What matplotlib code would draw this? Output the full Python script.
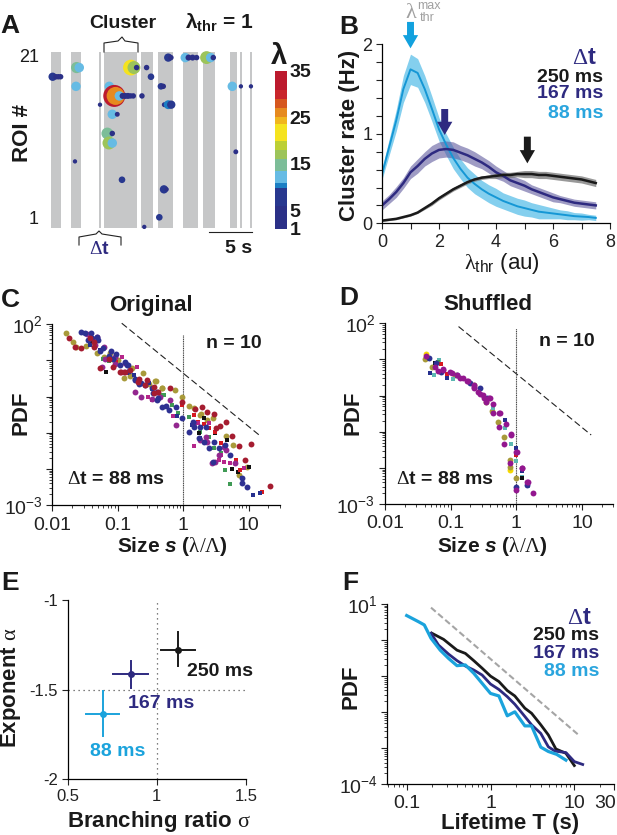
#!/usr/bin/env python3
import numpy as np
import matplotlib
matplotlib.use('Agg')
import matplotlib.pyplot as plt
from matplotlib.colors import ListedColormap, BoundaryNorm
from matplotlib.colorbar import ColorbarBase
from matplotlib.lines import Line2D
from matplotlib.ticker import LogLocator, NullFormatter, FixedLocator, FixedFormatter

plt.rcParams['font.family'] = ['Liberation Sans', 'DejaVu Sans']
plt.rcParams['mathtext.fontset'] = 'custom'
plt.rcParams['mathtext.rm'] = 'Liberation Serif'
plt.rcParams['mathtext.it'] = 'Liberation Serif'
plt.rcParams['mathtext.bf'] = 'Liberation Sans:bold'
plt.rcParams['mathtext.bfit'] = 'Liberation Sans:italic:bold'
plt.rcParams['axes.linewidth'] = 0.9

W, H = 617, 835
CYAN = '#1ba3dc'
NAVY = '#2e2a80'
BLACK = '#1a1a1a'
DARK = '#222222'

# panel A, active bands (s)
band_start = [0.03, 2.36, 5.55, 6.13, 10.47, 12.44, 15.31, 17.64, 20.78, 21.98, 23.1]
band_end = [1.2, 3.52, 5.81, 10.0, 11.86, 14.15, 17.09, 19.07, 21.63, 22.24, 23.4]

# panel A, events: time (s), ROI, lambda
spot_t = [0.19, 0.58, 0.85, 1.12, 2.98, 3.29, 2.91, 5.7, 6.78, 7.36, 7.52, 7.95, 8.33, 8.64, 8.95, 9.26,
          9.57, 10.58, 9.3, 9.65, 9.96, 11.12, 11.63, 7.13, 7.71, 6.55, 7.13, 6.74, 7.13, 8.26, 2.79,
          12.6, 12.79, 13.06, 13.14, 13.45, 13.18, 13.64, 13.99, 13.64, 13.95, 10.85,
          15.62, 16.0, 16.47, 16.94, 18.1, 18.57, 18.88, 21.09, 21.5, 22.09, 23.26]
spot_roi = [18.6, 18.6, 18.6, 18.6, 19.75, 19.75, 17.4, 15.1, 17.4, 16.2, 16.2, 16.2, 16.2, 16.2, 16.2, 16.2,
            16.2, 16.2, 19.75, 19.75, 19.75, 19.75, 18.6, 13.9, 13.9, 11.5, 11.5, 10.3, 10.3, 5.7, 8.0,
            1.0, 17.4, 17.4, 4.5, 4.5, 15.1, 15.1, 15.1, 21, 21, -0.2,
            21, 21, 21, 21, 21, 21, 21, 17.4, 9.2, 17.4, 17.4]
spot_lam = [9, 4, 4, 4, 14, 11, 11, 2, 11, 33, 26, 11, 5, 5, 5, 4,
            4, 4, 22, 17, 4, 4, 6, 11, 3, 15, 4, 17, 11, 6, 2,
            6, 6, 4, 9, 2, 3, 10, 9, 9, 4, 2,
            11, 5, 5, 4, 17, 11, 4, 11, 3, 2, 2]

lam_edges = [1, 6, 9.85, 11, 13.4, 16, 18, 20, 23.5, 25, 27, 29, 31, 35]
lam_colors = ['#2b3087', '#28388f', '#1b7fc4', '#66bbe4', '#7cbd98', '#9cc45a', '#bccf34',
              '#f5e31f', '#f0b61e', '#e68a1f', '#d6571f', '#c9262b', '#bc1a2e']
lam_ticks = [1, 5, 15, 25, 35]

# panel B, cluster rate
thr = np.arange(0, 7.75, 0.25)
rate_88 = [.55, .85, 1.15, 1.5, 1.72, 1.68, 1.5, 1.28, 1.05, .88, .73, .61, .51, .44, .38, .33, .29, .25, .22, .19,
           .17, .15, .13, .12, .11, .10, .09, .08, .075, .07, .06]
err_88 = [.06, .09, .12, .15, .17, .16, .15, .14, .13, .12, .12, .11, .11, .11, .10, .10, .10, .09, .09, .09,
          .09, .08, .08, .07, .06, .05, .05, .04, .04, .03, .03]
rate_167 = [.2, .27, .35, .45, .57, .64, .72, .78, .82, .83, .82, .79, .76, .72, .68, .63, .57, .53, .48, .45,
            .42, .38, .35, .32, .29, .27, .25, .23, .22, .21, .2]
err_167 = [.05, .05, .06, .06, .07, .08, .08, .09, .09, .09, .09, .08, .08, .08, .07, .07, .07, .06, .06, .06,
           .06, .05, .05, .05, .05, .04, .04, .04, .04, .04, .04]
rate_250 = [.03, .04, .05, .07, .09, .12, .17, .22, .28, .33, .38, .42, .46, .49, .51, .52, .53, .54, .54, .55,
            .55, .55, .54, .54, .53, .52, .51, .50, .49, .47, .45]
err_250 = [.01, .01, .01, .01, .01, .01, .015, .02, .02, .02, .02, .02, .02, .02, .02, .02, .03, .03, .03, .03,
           .04, .04, .04, .04, .04, .04, .04, .04, .04, .04, .04]

# panel C, log10 size and log10 pdf for each recording
c_olive_s = [-1.79, -1.69, -1.64, -1.48, -1.40, -1.31, -1.21, -1.12, -1.0, -.91, -.78, -.61, -.43, -.33, -.12, -.02, .08, .26, .37, .66, .76, .85, .97,
             -1.09, -1.02, -.81, -.52, -.42, -.32, .17, .27, .46]
c_olive_p = [1.77, 1.52, 1.38, 1.40, 1.50, 1.20, 1.10, 1.20, 1.02, .51, .78, .65, .42, .25, .18, 0, -.25, -.50, -.65, -1.1, -1.35, -2.17, -1.95,
             1.03, .94, .57, .36, .42, .24, -.31, -.49, -.58]
c_dred_s = [-1.74, -1.65, -1.56, -1.42, -1.27, -1.07, -.95, -.82, -.69, -.56, -.38, -.21, -.02, .18, .28, .37, .47, .50, .56, .65, .75, .85, 1.04, .94, 1.33,
            -1.37, -1.36, -1.14, -.96, -.89, -.68, -.59, -.45, -.45]
c_dred_p = [1.61, 1.38, 1.35, 1.61, .80, .83, .67, .74, .41, .46, .14, .25, -.16, -.33, -.28, -.42, -.49, -.88, -.81, -.71, -1.08, -1.36, -1.32, -1.76, -2.48,
            1.37, 1.51, 1.05, .68, .68, .48, .31, .11, .27]
c_navy_s = [-1.56, -1.50, -1.46, -1.40, -1.32, -1.30, -1.22, -1.14, -1.07, -.96, -.86, -.83, -.73, -.65, -.58, -.48, -.46, -.38, -.27, -.22, -.11, -.02, .08, .15, .24, .32, .40, .47, .55, .63, .72, .90, .90, .97,
            -1.41, -1.27, -1.1, -1.03, -.89, -.85, -.73, -.68, -.4, -.4, -.32, .16, .26, .34, .46]
c_navy_p = [1.80, 1.75, 1.57, 1.61, 1.66, 1.57, 1.34, 1.13, 1.04, .87, .87, .71, .46, .37, .32, .23, .09, -.05, -.25, -.37, -.28, -.60, -.99, -.69, -1.15, -1.25, -1.43, -1.25, -1.41, -1.34, -1.62, -2.25, -2.39, -2.5,
            1.76, 1.25, 1.25, 1.17, .96, .87, .48, .36, .13, -.1, -.29, -.83, -.83, -.85, -1.82]
c_purp_s = [-1.47, -1.35, -1.24, -1.04, -.89, -.74, -.65, -.48, -.35, -.2, -.11, .16, .26, .37, .44, .49, .54, .66, .79,
            -1.31, -1.21, -1.19, -1.05, -.9, .34, .62]
c_purp_p = [1.72, 1.43, .83, 1.1, .92, .12, 0, -.07, 0, -.09, -.79, -.74, -1.2, -1.25, -1.83, -1.8, -1.61, -1.48, -1.85,
            1.65, 1.37, 1.05, .91, .68, -1.11, -1.4]
c_mag_s = [-.94, -.71, -.48, -.15, .16, .22, .57, .72, .93, -.54, .39, .54, .62]
c_mag_p = [1.1, .83, -.09, -.54, -1.37, -.74, -1.63, -1.85, -1.97, -.01, -.74, -1.75, -1.8]
c_red_s = [-1.02, -.02, .22, .31, .4, .57, .8, .87, 1.2, .16, .48]
c_red_p = [.97, -.23, -.69, -.77, -.88, -1.29, -1.75, -2.03, -2.65, -.51, -.99]
c_green_s = [-1.14, -.48, -.3, -.17, -.08, .08, .25, .47, .64, .72, -1.22, -.33, .4, .57]
c_green_p = [.98, .21, .04, -.23, -.46, -.56, -.97, -1.43, -2.03, -2.43, 1.03, .04, -1.11, -1.55]
c_black_s = [-1.18, -1.42, -.02, .24, .32, .49, .67, .75, 1, .83]
c_black_p = [.69, 1.47, -.19, -1.02, -.59, -1.02, -1.2, -2, -1.96, -2.1]
c_nsq_s = [-1.42, -1.27, -.86, -.76, -.53, -.1, .13, .26, .9, 1.06, 1.17]
c_nsq_p = [1.43, 1.29, .64, .6, .37, -.55, -.79, -1.15, -2.25, -2.73, -2.68]

# panel D, log10 size and log10 pdf for each shuffled recording
d_olive_s = [-1.39, -1.29, -.93, -.65, -.46, -.37, -.28, -.19, -.09, -.09, 0]
d_olive_p = [1.01, .8, .57, .29, -.17, -.43, -.73, -1.14, -1.79, -1.98, -2.27]
d_purp_s = [-1.38, -1.24, -1.11, -.98, -.86, -.75, -.65, -.58, -.49, -.41, -.35, -.26, -.27, -.18, -.08, -.09, 0, 0, .08, .17, .25,
            -1.19, -1.11, -1.01, -.91, -.81, -.73, -.65, -.64, -.55, -.5, -.4, -.46, -.25, -.36, -.16, -.08, .01, .08, .18]
d_purp_p = [1.1, .8, .71, .62, .5, .39, .25, .11, -.07, -.07, -.24, -.47, -.86, -1.34, -1.09, -1.87, -2.61, -1.55, -2.01, -2.38, -2.69,
            .68, .74, .66, .57, .48, .39, .29, .2, .04, .02, -.06, -.19, -.47, -.49, -.8, -1.07, -1.57, -2.01, -2.38]
d_navy_s = [-1.33, -1.22, -1.14, -.91, -.7, -.55, -.45, 0, .16]
d_navy_p = [1.05, .89, .66, .57, .34, .2, -.06, -2.52, -2.47]
d_nsq_s = [-1.31, -1.06, -.17, -.08, 0, .09]
d_nsq_p = [.62, .48, -.68, -1.09, -1.46, -2.09]
d_teal_s = [-1.25, -1.18, -.96, -.35, -.17, -.08, 0, .09, .18]
d_teal_p = [.57, .98, .45, -.33, -.91, -1.34, -1.81, -2.24, -2.5]
d_red_s = [-1.14, -1.06, 0]
d_red_p = [.87, .59, -1.64]
d_black_s = [-1.24, .09]
d_black_p = [.89, -2.27]
d_green_s = [-1.19, .18]
d_green_p = [.92, -2.47]
d_yel_s = [-1.38, -.09]
d_yel_p = [1.14, -2.06]

# guide lines (log10 coordinates)
c_guide_s = [-.94, 1.19]
c_guide_p = [2.03, -1.11]
d_guide_s = [-.88, 1.14]
d_guide_p = [1.91, -1.09]

# panel E
sigma = [1.12, .853, .70]
sigma_lo = [1.023, .756, .603]
sigma_hi = [1.214, .949, .79]
alpha_v = [-1.28, -1.415, -1.634]
alpha_lo = [-1.37, -1.49, -1.76]
alpha_hi = [-1.18, -1.34, -1.505]
dt_names = ['250 ms', '167 ms', '88 ms']

# panel F, log10 lifetime and log10 pdf
f88_t = [-1, -.86, -.79, -.71, -.6, -.5, -.4, -.3, -.2, -.1, 0, .1, .2, .29, .41, .49, .6, .69, .79, .9]
f88_p = [.68, .51, .42, .05, -.28, -.51, -.71, -.69, -.92, -1.2, -1.48, -1.55, -2.1, -1.99, -2.38, -2.38, -2.97, -3.09, -3.17, -3.33]
f167_t = [-.71, -.62, -.5, -.4, -.3, -.2, -.1, 0, .1, .2, .29, .41, .49, .6, .69, .77, .9, 1, 1.1]
f167_p = [.19, -.14, -.39, -.57, -.72, -.83, -.97, -1.22, -1.37, -1.57, -1.78, -2.12, -2.35, -2.59, -2.96, -3.08, -3.12, -3.37, -3.45]
f250_t = [-.7, -.56, -.4, -.3, -.2, -.1, 0, .1, .2, .29, .41, .49, .6, .69, .78, .9, 1]
f250_p = [.19, .02, -.28, -.37, -.57, -.78, -1, -1.15, -1.4, -1.55, -1.89, -2.03, -2.35, -2.63, -3.02, -3.14, -3.48]
f_guide_t = [-.71, 1.05]
f_guide_p = [.9, -2.63]

fig = plt.figure(figsize=(W / 100, H / 100), dpi=100)


def add_ax(left, top, right, bottom):
    ax = fig.add_axes([left / W, 1 - bottom / H, (right - left) / W, (bottom - top) / H])
    ax.patch.set_alpha(0)
    ax.spines['top'].set_visible(False)
    ax.spines['right'].set_visible(False)
    ax.tick_params(which='major', length=4, width=0.8, labelsize=13, pad=3, color=DARK, labelcolor=DARK)
    ax.tick_params(which='minor', length=2.5, width=0.6, color=DARK)
    return ax


def label(x, y, s, size=14, bold=True, color=BLACK, ha='center', rot=0):
    fig.text(x / W, 1 - y / H, s, fontsize=size, fontweight='bold' if bold else 'normal',
             color=color, ha=ha, va='center', rotation=rot)


def bracket(xs, ys):
    fig.add_artist(Line2D(np.array(xs) / W, 1 - np.array(ys) / H, color=DARK, lw=0.8))


def log_axes(ax, xmajor, xlabels, ymajor, ylabels):
    ax.set_xscale('log')
    ax.set_yscale('log')
    ax.xaxis.set_major_locator(FixedLocator(xmajor))
    ax.xaxis.set_major_formatter(FixedFormatter(xlabels))
    ax.xaxis.set_minor_locator(LogLocator(base=10, subs=np.arange(2, 10), numticks=20))
    ax.xaxis.set_minor_formatter(NullFormatter())
    ax.yaxis.set_major_locator(FixedLocator(ymajor))
    ax.yaxis.set_major_formatter(FixedFormatter(ylabels))
    ax.yaxis.set_minor_locator(LogLocator(base=10, subs=np.arange(2, 10), numticks=20))
    ax.yaxis.set_minor_formatter(NullFormatter())
    ax.tick_params(which='major', labelsize=14)


def dots(ax, s, p, color, marker='o', size=18):
    ax.scatter(10 ** np.array(s), 10 ** np.array(p), s=size, c=color, marker=marker, linewidths=0, clip_on=False, zorder=3)


# ---- A
axA = add_ax(51, 52, 253, 228)
axA.set_xlim(0, 23.5)
axA.set_ylim(-0.34, 21.7)
axA.axis('off')
for a, b in zip(band_start, band_end):
    axA.axvspan(a, b, color='#c6c7c8', lw=0)
cmap = ListedColormap(lam_colors)
norm = BoundaryNorm(lam_edges, cmap.N)
lam = np.array(spot_lam)
axA.scatter(spot_t, spot_roi, c=lam, cmap=cmap, norm=norm, s=((3.2 + 0.57 * lam) * 0.72) ** 2, linewidths=0, clip_on=False, zorder=3)

cax = fig.add_axes([275 / W, 1 - 229 / H, 12 / W, 158 / H])
cb = ColorbarBase(cax, cmap=cmap, norm=norm, spacing='proportional', ticks=lam_ticks)
cb.outline.set_visible(False)
cb.ax.minorticks_off()
cb.ax.tick_params(length=0, labelsize=14, pad=2, labelcolor=BLACK)
cb.ax.set_yticklabels([str(v) for v in lam_ticks], fontweight='bold')

label(10, 26, 'A', 19)
label(123, 23, 'Cluster')
label(219, 23, r'$\mathbf{\lambda_{thr}}$ = 1', 15)
label(39, 58, '21', 13, bold=False, ha='right')
label(39, 219, '1', 13, bold=False, ha='right')
label(22, 133, 'ROI #', 16, rot=90)
label(279, 56, r'$\mathbf{\lambda}$', 21)
label(99, 249, r'$\Delta$t', 14, color=NAVY)
label(239, 248, '5 s', 14)
bracket([104, 104, 118, 122, 125, 138, 138], [52, 43, 41, 37, 41, 43, 52])
bracket([79, 79, 96, 99, 102, 121, 121], [245, 237, 234, 231, 234, 237, 245])
bracket([209, 252], [232, 232])

# ---- B
axB = add_ax(382, 44.3, 610, 223.3)
axB.set_xlim(0, 8)
axB.set_ylim(0, 2)
r88, e88 = np.array(rate_88), np.array(err_88)
r167, e167 = np.array(rate_167), np.array(err_167)
r250, e250 = np.array(rate_250), np.array(err_250)
axB.fill_between(thr, r88 - e88, r88 + e88, color='#84cfee', lw=0)
axB.fill_between(thr, r167 - e167, r167 + e167, color='#5f5a9e', alpha=0.6, lw=0)
axB.fill_between(thr, r250 - e250, r250 + e250, color='#777777', alpha=0.75, lw=0)
axB.plot(thr, r88, color='#1597d5', lw=1.4)
axB.plot(thr, r167, color=NAVY, lw=1.8)
axB.plot(thr, r250, color=BLACK, lw=1.8)
axB.set_xticks([0, 2, 4, 6, 8])
axB.set_xticks([1, 3, 5, 7], minor=True)
axB.set_yticks([0, 1, 2])
axB.set_yticks(np.arange(0, 2.01, 0.2), minor=True)
axB.tick_params(which='minor', length=4, width=0.8)
axB.tick_params(axis='x', pad=4)
for x0, y0, y1, col in [(1, 2.25, 1.955, '#12a1de'), (2.2, 1.277, .987, NAVY), (5.1, .968, .67, BLACK)]:
    axB.annotate('', xy=(x0, y1), xytext=(x0, y0), annotation_clip=False,
                 arrowprops=dict(width=5, headwidth=11, headlength=9.5, color=col, shrink=0, lw=0))
label(349, 27, 'B', 19)
label(349, 135, 'Cluster rate (Hz)', 16, rot=90)
label(411, 12, r'$\lambda$', 16, bold=False, color='#a0a0a0')
label(429, 6, 'max', 9, bold=False, color='#a0a0a0')
label(427, 18, 'thr', 9, bold=False, color='#a0a0a0')
label(502, 263, r'$\lambda_{\mathregular{thr}}$ (au)', 16, bold=False)
label(597, 57, r'$\Delta$t', 17, color=NAVY, ha='right')
label(603, 77, '250 ms', 14, ha='right')
label(603, 94, '167 ms', 14, color=NAVY, ha='right')
label(603, 113, '88 ms', 14, color='#2aa5de', ha='right')

# ---- C
axC = add_ax(52.3, 324.3, 280, 505)
axC.set_xlim(0.01, 30)
axC.set_ylim(1e-3, 1e2)
log_axes(axC, [0.01, 0.1, 1, 10], ['0.01', '0.1', '1', '10'], [1e-3, 1e-2, 1e-1, 1, 10, 100],
         [r'$\mathregular{10^{-3}}$', '', '', '', '', r'$\mathregular{10^{2}}$'])
axC.tick_params(axis='x', pad=5)
axC.plot(10 ** np.array(c_guide_s), 10 ** np.array(c_guide_p), color=DARK, lw=0.8, ls=(0, (6, 3)), clip_on=False)
axC.plot([1, 1], [1e-3, 10 ** 1.7], color='#444444', lw=0.8, ls=(0, (1, 0.6)))
dots(axC, c_olive_s, c_olive_p, '#a89a3a')
dots(axC, c_green_s, c_green_p, '#3f9a55', 's', 11)
dots(axC, c_black_s, c_black_p, '#111111', 's', 11)
dots(axC, c_red_s, c_red_p, '#d71920', 's', 11)
dots(axC, c_mag_s, c_mag_p, '#b5268a', 's', 11)
dots(axC, c_nsq_s, c_nsq_p, '#262f8e', 's', 11)
dots(axC, c_purp_s, c_purp_p, '#93278f')
dots(axC, c_navy_s, c_navy_p, '#2e3192')
dots(axC, c_dred_s, c_dred_p, '#a51c30')
label(10, 300, 'C', 19)
label(151, 305, 'Original', 16)
label(234, 343, 'n = 10')
label(116, 480, r'$\Delta$t = 88 ms')
label(21, 413, 'PDF', 16, rot=90)
label(172, 546, r'Size $\mathbfit{s}$ ($\lambda/\Lambda$)', 15)

# ---- D
axD = add_ax(385, 323.3, 613.3, 504)
axD.set_xlim(0.01, 30)
axD.set_ylim(1e-3, 1e2)
log_axes(axD, [0.01, 0.1, 1, 10], ['0.01', '0.1', '1', '10'], [1e-3, 1e-2, 1e-1, 1, 10, 100],
         [r'$\mathregular{10^{-3}}$', '', '', '', '', r'$\mathregular{10^{2}}$'])
axD.tick_params(axis='x', pad=4)
axD.plot(10 ** np.array(d_guide_s), 10 ** np.array(d_guide_p), color=DARK, lw=0.8, ls=(0, (6, 3)), clip_on=False)
axD.plot([1, 1], [1e-3, 10 ** 1.86], color='#444444', lw=0.8, ls=(0, (1, 0.6)))
dots(axD, d_yel_s, d_yel_p, '#f5d800')
dots(axD, d_olive_s, d_olive_p, '#a89a3a')
dots(axD, d_teal_s, d_teal_p, '#5cb8b2', 's', 11)
dots(axD, d_green_s, d_green_p, '#3f9a55', 's', 11)
dots(axD, d_red_s, d_red_p, '#d71920', 's', 11)
dots(axD, d_black_s, d_black_p, '#111111', 's', 11)
dots(axD, d_nsq_s, d_nsq_p, '#262f8e', 's', 11)
dots(axD, d_navy_s, d_navy_p, '#2e3192')
dots(axD, d_purp_s, d_purp_p, '#93178f')
label(349, 298, 'D', 19)
label(488, 305, 'Shuffled', 16)
label(567, 342, 'n = 10')
label(445, 480, r'$\Delta$t = 88 ms')
label(353, 413, 'PDF', 16, rot=90)
label(492, 546, r'Size $\mathbfit{s}$ ($\lambda/\Lambda$)', 15)

# ---- E
axE = add_ax(67.7, 600, 246, 779.3)
axE.set_xlim(0.5, 1.5)
axE.set_ylim(-2, -1)
axE.plot([1, 1], [-2, -1], color='#555555', lw=0.9, ls=(0, (1, 3)))
axE.plot([0.5, 1.5], [-1.5, -1.5], color='#555555', lw=0.9, ls=(0, (1, 3)))
e_colors = [BLACK, NAVY, CYAN]
for i in range(3):
    axE.plot([sigma_lo[i], sigma_hi[i]], [alpha_v[i], alpha_v[i]], color=e_colors[i], lw=1.4)
    axE.plot([sigma[i], sigma[i]], [alpha_lo[i], alpha_hi[i]], color=e_colors[i], lw=1.4)
    axE.plot(sigma[i], alpha_v[i], 'o', color=e_colors[i], ms=5, mew=0)
axE.set_xticks([0.5, 1, 1.5])
axE.set_xticklabels(['0.5', '1', '1.5'])
axE.set_yticks([-2, -1.5, -1])
axE.set_yticklabels(['-2', '-1.5', '-1'])
axE.tick_params(labelsize=12)
label(10, 583, 'E', 19)
label(220, 672, dt_names[0])
label(161, 703, dt_names[1], color=NAVY)
label(118, 751, dt_names[2], color=CYAN)
label(11, 688, r'Exponent $\alpha$', 16, rot=90)
label(159, 822, r'Branching ratio $\sigma$', 16)

# ---- F
axF = add_ax(387.3, 604, 614.3, 784.3)
axF.set_xlim(0.0587, 30)
axF.set_ylim(1e-4, 10)
log_axes(axF, [0.1, 1, 10, 30], ['0.1', '1', '10', ''], [1e-4, 1e-3, 1e-2, 1e-1, 1, 10],
         [r'$\mathregular{10^{-4}}$', '', '', '', '', r'$\mathregular{10^{1}}$'])
axF.tick_params(axis='x', pad=4)
axF.plot(10 ** np.array(f_guide_t), 10 ** np.array(f_guide_p), color='#a5a5a5', lw=1.5, ls=(0, (3, 1.5)))
axF.plot(10 ** np.array(f250_t), 10 ** np.array(f250_p), color=BLACK, lw=2)
axF.plot(10 ** np.array(f167_t), 10 ** np.array(f167_p), color=NAVY, lw=2)
axF.plot(10 ** np.array(f88_t), 10 ** np.array(f88_p), color=CYAN, lw=2.3)
label(350, 583, 'F', 19)
label(592, 618, r'$\Delta$t', 17, color=NAVY, ha='right')
label(599, 636, '250 ms', 14, ha='right')
label(599, 653, '167 ms', 14, color=NAVY, ha='right')
label(599, 672, '88 ms', 14, color='#2aa5de', ha='right')
label(351, 687, 'PDF', 16, rot=90)
label(510, 824, 'Lifetime T (s)', 16)
label(616, 804, '30', 14, bold=False, color=DARK, ha='right')

fig.savefig('out.png', dpi=100)
